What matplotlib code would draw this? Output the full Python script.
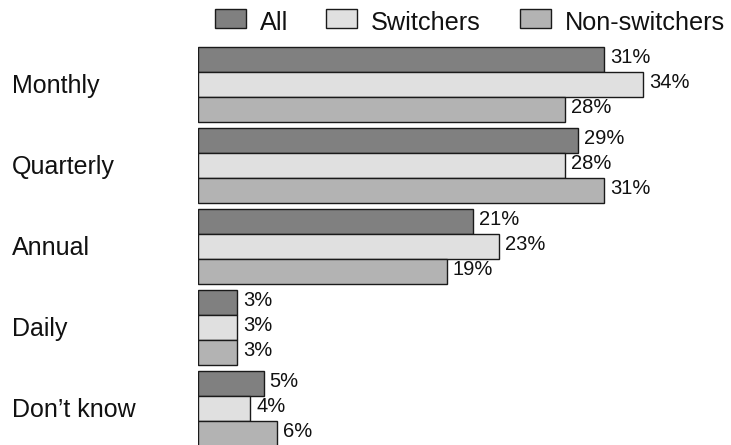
import matplotlib
matplotlib.use("Agg")
import matplotlib.pyplot as plt
from matplotlib.patches import Rectangle

plt.rcParams['font.family'] = ['Liberation Sans', 'DejaVu Sans']

categories = ["Monthly", "Quarterly", "Annual", "Daily", "Don\u2019t know"]
series_names = ["All", "Switchers", "Non-switchers"]
all_vals = [31, 29, 21, 3, 5]
switchers = [34, 28, 23, 3, 4]
non_switchers = [28, 31, 19, 3, 6]
colors = ["#808080", "#e0e0e0", "#b3b3b3"]
edge = "#1a1a1a"

W, H = 731, 445
fig = plt.figure(figsize=(W / 100, H / 100), dpi=100)

# Bar area: x in percent, y in pixels measured from the top
x0 = 198
px_per_pct = 13.1
ax = fig.add_axes([x0 / W, 0, 1 - x0 / W, 1])
ax.set_xlim(0, (W - x0) / px_per_pct)
ax.set_ylim(H, 0)
ax.axis("off")

# Full-figure overlay in pixel units for labels and legend
ov = fig.add_axes([0, 0, 1, 1], zorder=-1)
ov.set_xlim(0, W)
ov.set_ylim(H, 0)
ov.axis("off")

bar_h = 25.3
pitch = 81
top0 = 46.5
cat_size = 18
val_size = 14.5
series = [all_vals, switchers, non_switchers]

for gi, cat in enumerate(categories):
    gtop = top0 + gi * pitch
    for si, vals in enumerate(series):
        yc = gtop + si * bar_h + bar_h / 2
        ax.barh(yc, vals[gi], height=bar_h, color=colors[si],
                edgecolor=edge, linewidth=1.0)
        ax.text(vals[gi] + 6 / px_per_pct, yc - 2, f"{vals[gi]}%",
                va="center", ha="left", fontsize=val_size, color="#111111")
    gc = gtop + 1.5 * bar_h
    ov.text(12, gc + 9, cat, ha="left", va="baseline",
            fontsize=cat_size, color="#111111")

# Legend row
leg_x = [215, 326, 520]
for lx, name, c in zip(leg_x, series_names, colors):
    ov.add_patch(Rectangle((lx, 9), 30.5, 19, facecolor=c, edgecolor=edge,
                           linewidth=1.0))
    ov.text(lx + 45, 29.5, name, ha="left", va="baseline", fontsize=18.2,
            color="#111111")

fig.savefig("out.png", dpi=100)
